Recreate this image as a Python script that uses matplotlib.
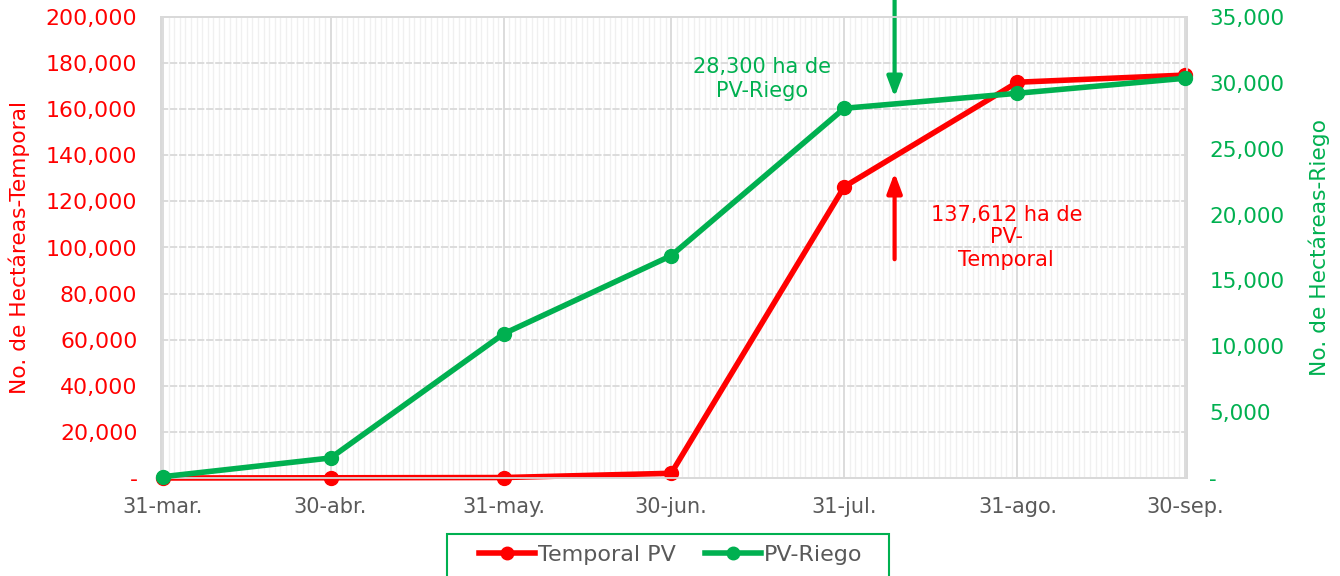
import matplotlib
matplotlib.use("Agg")
import matplotlib.pyplot as plt
import matplotlib.dates as mdates
from matplotlib.ticker import FuncFormatter, MultipleLocator
from matplotlib.lines import Line2D
from matplotlib.patches import Rectangle
import datetime as dt

# ---- data ----
dates = ["2023-03-31", "2023-04-30", "2023-05-31", "2023-06-30",
         "2023-07-31", "2023-08-31", "2023-09-30"]
tick_labels = ["31-mar.", "30-abr.", "31-may.", "30-jun.", "31-jul.", "31-ago.", "30-sep."]
temporal_pv = [0, 100, 200, 2050, 126400, 171700, 174800]
pv_riego = [100, 1520, 10950, 16880, 28070, 29210, 30350]

RED = "#FF0000"
GREEN = "#00B050"
GRAY_TXT = "#595959"

plt.rcParams['font.family'] = ['DejaVu Sans']

x = [dt.datetime.strptime(d, "%Y-%m-%d") for d in dates]
xn = mdates.date2num(x)

fig = plt.figure(figsize=(13.4, 5.76), dpi=100)
ax = fig.add_axes([161/1340, 1-478/576, (1187-161)/1340, (478-17)/576])
ax2 = ax.twinx()

ax.set_xlim(xn[0] - 0.36, xn[-1] + 0.36)
ax.set_ylim(0, 200000)
ax2.set_ylim(0, 35000)

# grid
ax.set_xticks(xn)
ax.set_xticklabels(tick_labels, fontsize=15, color=GRAY_TXT)
ax.xaxis.set_minor_locator(MultipleLocator(1))
ax.grid(which='minor', axis='x', color='#F0F0F0', linewidth=1.0)
ax.grid(which='major', axis='x', color='#D9D9D9', linewidth=1.3)
ax.yaxis.set_major_locator(MultipleLocator(20000))
ax.grid(which='major', axis='y', color='#D9D9D9', linewidth=1.3, linestyle=(0, (4, 1)))
ax.set_axisbelow(True)
ax.tick_params(axis='x', which='both', length=0, pad=14)
ax.tick_params(axis='y', length=0, pad=17)
ax2.tick_params(axis='y', length=0, pad=16)

fmt = FuncFormatter(lambda v, p: "-" if v == 0 else f"{v:,.0f}")
ax.yaxis.set_major_formatter(fmt)
ax2.yaxis.set_major_locator(MultipleLocator(5000))
ax2.yaxis.set_major_formatter(fmt)
for lab in ax.get_yticklabels():
    lab.set_color(RED); lab.set_fontsize(15.8)
for lab in ax2.get_yticklabels():
    lab.set_color(GREEN); lab.set_fontsize(15.5)

for a in (ax, ax2):
    for s in a.spines.values():
        s.set_color('#D9D9D9')
        s.set_linewidth(1.3)

ax.set_ylabel("No. de Hectáreas-Temporal", color=RED, fontsize=15.7)
ax.yaxis.set_label_coords((30-161)/1026, 0.5)
ax2.set_ylabel("No. de Hectáreas-Riego", color=GREEN, fontsize=15.7)
ax2.yaxis.set_label_coords((1309-161)/1026, 0.5)

ax.plot(xn, temporal_pv, color=RED, lw=4, marker='o', ms=10, zorder=3, clip_on=False)
ax2.plot(xn, pv_riego, color=GREEN, lw=4, marker='o', ms=10, zorder=3, clip_on=False)

# annotations
xa = mdates.date2num(dt.datetime(2023, 8, 9))
ax.annotate("", xy=(xa, 164000), xytext=(xa, 210000), xycoords='data',
            arrowprops=dict(arrowstyle='-|>,head_width=0.45,head_length=1.2', color=GREEN, lw=3),
            annotation_clip=False)
ax.annotate("", xy=(xa, 133600), xytext=(xa, 93700), xycoords='data',
            arrowprops=dict(arrowstyle='-|>,head_width=0.45,head_length=1.2', color=RED, lw=3),
            annotation_clip=False)
ax.text(mdates.date2num(dt.datetime(2023, 7, 16, 6)), 173100, "28,300 ha de\nPV-Riego",
        color=GREEN, fontsize=15, ha='center', va='center', linespacing=1.2, zorder=5)
ax.text(mdates.date2num(dt.datetime(2023, 8, 29)), 104500, "137,612 ha de\nPV-\nTemporal",
        color=RED, fontsize=15, ha='center', va='center', linespacing=1.15, zorder=5)

# legend
handles = [Line2D([], [], color=RED, lw=4, marker='o', ms=9),
           Line2D([], [], color=GREEN, lw=4, marker='o', ms=9)]
leg = fig.legend(handles, ["Temporal PV", "PV-Riego"], loc='center',
                 bbox_to_anchor=(671/1340, 1-555/576), ncol=2, fontsize=16,
                 frameon=False, handlelength=2.5, handletextpad=0.15,
                 columnspacing=1.3, borderpad=0.2)
for t in leg.get_texts():
    t.set_color(GRAY_TXT)
fig.patches.append(Rectangle((447/1340, -0.02), (889-447)/1340, 0.02 + (576-534)/576,
                             transform=fig.transFigure, fill=False,
                             edgecolor=GREEN, linewidth=1.5))

fig.savefig("out.png", dpi=100)
